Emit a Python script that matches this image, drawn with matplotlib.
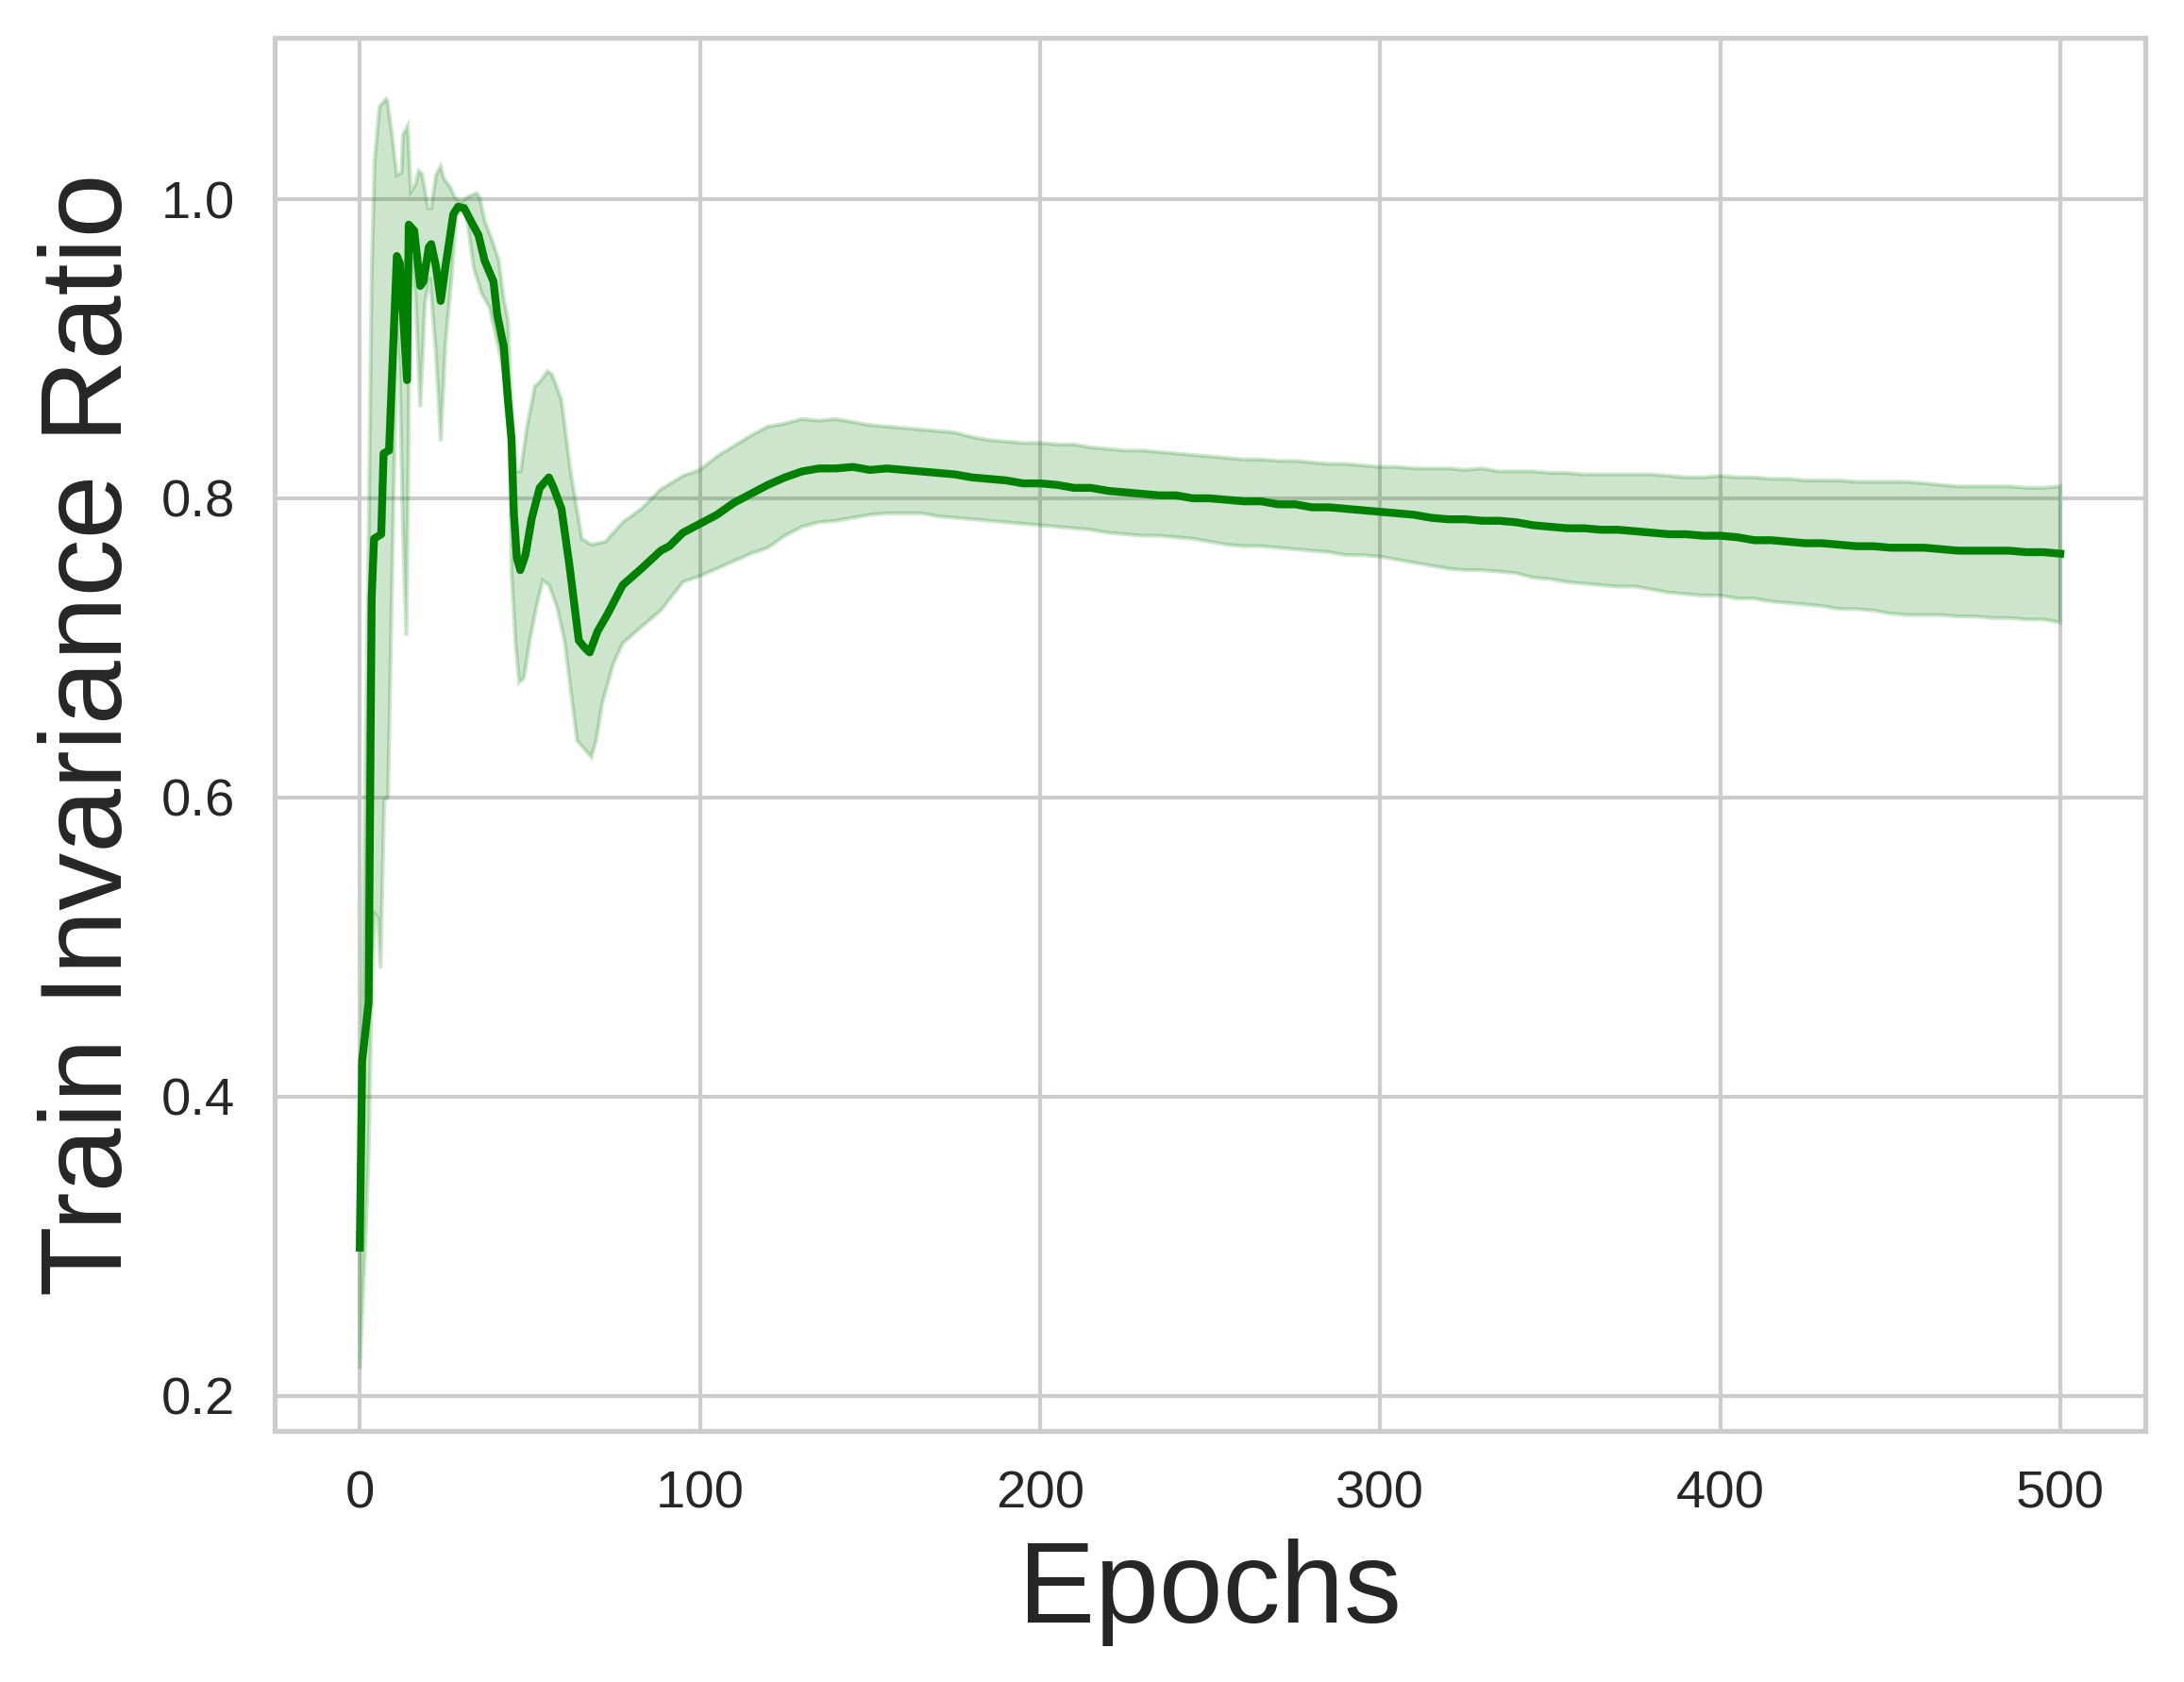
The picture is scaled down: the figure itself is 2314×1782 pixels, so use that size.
import matplotlib
matplotlib.use("Agg")
import matplotlib.pyplot as plt

# early part: at uneven epochs
early_mean_epochs = [0, 0.7, 2.6, 3.5, 4.2, 6.3, 7.0, 8.6, 10.9, 11.8, 13.9, 14.4, 16.0,
                     17.8, 18.7, 20.3, 21.0, 22.4, 23.8, 25.2, 27.5, 28.9, 30.7, 33.0,
                     34.9, 36.7, 39.3, 40.4, 42.3, 43.6, 44.6, 45.3, 46.2, 47.2, 48.7,
                     50.6, 52.9, 55.6, 57.0, 59.3, 61.6, 64.4, 66.2, 67.6, 69.9, 72.7,
                     77.3, 82.8, 88.5, 91.0]
early_mean = [0.299, 0.424, 0.463, 0.734, 0.773, 0.776, 0.830, 0.832, 0.962, 0.957, 0.879,
              0.983, 0.979, 0.942, 0.945, 0.968, 0.970, 0.955, 0.932, 0.955, 0.990, 0.995,
              0.994, 0.984, 0.976, 0.959, 0.945, 0.923, 0.902, 0.865, 0.840, 0.790, 0.760,
              0.752, 0.762, 0.787, 0.807, 0.814, 0.807, 0.793, 0.756, 0.705, 0.700, 0.697,
              0.711, 0.722, 0.742, 0.753, 0.765, 0.768]

early_upper_epochs = [0, 0.7, 2.6, 3.5, 4.4, 5.8, 7.7, 8.1, 9.5, 10.9, 12.3, 12.7, 14.1, 15.0,
                      16.4, 17.3, 18.3, 20.1, 21.0, 22.4, 23.8, 24.7, 26.6, 28.0, 29.8, 32.1,
                      34.4, 35.3, 36.7, 39.0, 40.9, 42.3, 43.6, 44.6, 45.9, 47.3, 49.1, 51.5,
                      53.0, 55.2, 56.5, 59.3, 62.0, 65.3, 68.1, 72.2, 77.3, 82.8, 88.5]
early_upper = [0.310, 0.460, 0.770, 0.950, 1.027, 1.062, 1.067, 1.066, 1.043, 1.016, 1.018,
               1.043, 1.049, 1.005, 1.010, 1.019, 1.017, 0.994, 0.994, 1.016, 1.022, 1.014,
               1.008, 1.001, 0.998, 1.002, 1.004, 1.001, 0.986, 0.972, 0.959, 0.934, 0.919,
               0.860, 0.818, 0.818, 0.847, 0.875, 0.878, 0.885, 0.883, 0.866, 0.818, 0.773,
               0.769, 0.771, 0.784, 0.793, 0.806]

early_lower_epochs = [0, 1.7, 2.6, 3.5, 4.4, 5.4, 6.1, 7.2, 8.3, 9.5, 10.9, 11.8, 12.7, 13.7,
                      14.4, 14.6, 16.4, 17.8, 19.2, 20.6, 22.4, 23.8, 25.2, 27.0, 28.4, 31.0,
                      33.5, 35.8, 38.1, 40.0, 42.2, 44.1, 44.6, 45.9, 46.9, 48.3, 50.0, 52.0,
                      53.8, 55.6, 57.9, 60.2, 62.0, 63.9, 66.2, 68.1, 69.5, 71.3, 74.5, 77.3,
                      82.8, 88.5]
early_lower = [0.218, 0.305, 0.360, 0.470, 0.522, 0.519, 0.486, 0.598, 0.600, 0.745, 0.914,
               0.880, 0.779, 0.708, 0.846, 0.971, 0.935, 0.861, 0.931, 0.948, 0.897, 0.838,
               0.903, 0.948, 0.990, 0.995, 0.954, 0.937, 0.928, 0.909, 0.886, 0.835, 0.751,
               0.700, 0.677, 0.680, 0.705, 0.728, 0.745, 0.742, 0.728, 0.705, 0.672, 0.638,
               0.632, 0.627, 0.638, 0.663, 0.689, 0.703, 0.714, 0.725]

# later part: every 5 epochs from 95 to 500
late_epochs = list(range(95, 501, 5))
late_mean = [0.777, 0.783, 0.789, 0.797, 0.803, 0.809, 0.814, 0.818, 0.820, 0.820, 0.821,
             0.819, 0.820, 0.819, 0.818, 0.817, 0.816, 0.814, 0.813, 0.812, 0.810, 0.810,
             0.809, 0.807, 0.807, 0.805, 0.804, 0.803, 0.802, 0.802, 0.800, 0.800, 0.799,
             0.798, 0.798, 0.796, 0.796, 0.794, 0.794, 0.793, 0.792, 0.791, 0.790, 0.789,
             0.787, 0.786, 0.786, 0.785, 0.785, 0.784, 0.782, 0.781, 0.780, 0.780, 0.779,
             0.779, 0.778, 0.777, 0.776, 0.776, 0.775, 0.775, 0.774, 0.772, 0.772, 0.771,
             0.770, 0.770, 0.769, 0.768, 0.768, 0.767, 0.767, 0.767, 0.766, 0.765, 0.765,
             0.765, 0.765, 0.764, 0.764, 0.763]
late_upper = [0.815, 0.819, 0.828, 0.835, 0.842, 0.848, 0.850, 0.853, 0.852, 0.853, 0.851,
              0.849, 0.848, 0.847, 0.846, 0.845, 0.844, 0.841, 0.839, 0.838, 0.837, 0.837,
              0.836, 0.836, 0.834, 0.833, 0.832, 0.832, 0.831, 0.830, 0.829, 0.828, 0.827,
              0.826, 0.826, 0.825, 0.825, 0.824, 0.823, 0.823, 0.822, 0.821, 0.821, 0.820,
              0.820, 0.820, 0.819, 0.820, 0.818, 0.818, 0.818, 0.817, 0.817, 0.816, 0.816,
              0.816, 0.816, 0.816, 0.815, 0.814, 0.814, 0.815, 0.814, 0.814, 0.813, 0.813,
              0.812, 0.812, 0.812, 0.811, 0.811, 0.811, 0.811, 0.810, 0.809, 0.808, 0.808,
              0.808, 0.808, 0.807, 0.807, 0.808]
late_lower = [0.744, 0.748, 0.753, 0.758, 0.763, 0.767, 0.775, 0.781, 0.784, 0.785, 0.787,
              0.789, 0.790, 0.790, 0.790, 0.788, 0.787, 0.786, 0.785, 0.784, 0.783, 0.782,
              0.781, 0.780, 0.779, 0.777, 0.776, 0.775, 0.775, 0.774, 0.773, 0.771, 0.769,
              0.768, 0.768, 0.767, 0.766, 0.765, 0.764, 0.762, 0.762, 0.761, 0.759, 0.757,
              0.755, 0.753, 0.752, 0.752, 0.751, 0.750, 0.747, 0.746, 0.744, 0.743, 0.742,
              0.741, 0.741, 0.739, 0.737, 0.736, 0.735, 0.735, 0.733, 0.733, 0.731, 0.730,
              0.729, 0.728, 0.726, 0.726, 0.725, 0.723, 0.722, 0.722, 0.722, 0.721, 0.721,
              0.720, 0.720, 0.719, 0.719, 0.717]

x_ticks = [0, 100, 200, 300, 400, 500]
y_ticks = [0.2, 0.4, 0.6, 0.8, 1.0]

mean_x = early_mean_epochs + late_epochs
mean_y = early_mean + late_mean
band_x = early_upper_epochs + late_epochs + late_epochs[::-1] + early_lower_epochs[::-1]
band_y = early_upper + late_upper + late_lower[::-1] + early_lower[::-1]

plt.rcParams['font.family'] = ['Liberation Sans', 'DejaVu Sans']
plt.rcParams['text.color'] = '#262626'

fig = plt.figure(figsize=(2314 / 300, 1782 / 300), dpi=300)
ax = fig.add_axes([0.1258, 0.1493, 0.8565, 0.8283])

ax.fill(band_x, band_y, color='green', alpha=0.2, linewidth=1, zorder=2)
ax.plot(mean_x, mean_y, color='green', linewidth=2, zorder=3)

ax.set_xlim(-25, 525)
ax.set_ylim(0.1765, 1.108)
ax.set_xticks(x_ticks)
ax.set_yticks(y_ticks)
ax.set_yticklabels(['0.2', '0.4', '0.6', '0.8', '1.0'])
ax.grid(True, color='#cccccc', linewidth=1, zorder=0)
ax.set_axisbelow(True)
for s in ax.spines.values():
    s.set_color('#cccccc')
    s.set_linewidth(1.25)
ax.tick_params(length=0, pad=10, labelsize=13.5, colors='#262626')

ax.set_xlabel('Epochs', fontsize=29.2, color='#262626', labelpad=5)
ax.set_ylabel('Train Invariance Ratio', fontsize=29.3, color='#262626', labelpad=4)

fig.savefig('out.png', dpi=300)
